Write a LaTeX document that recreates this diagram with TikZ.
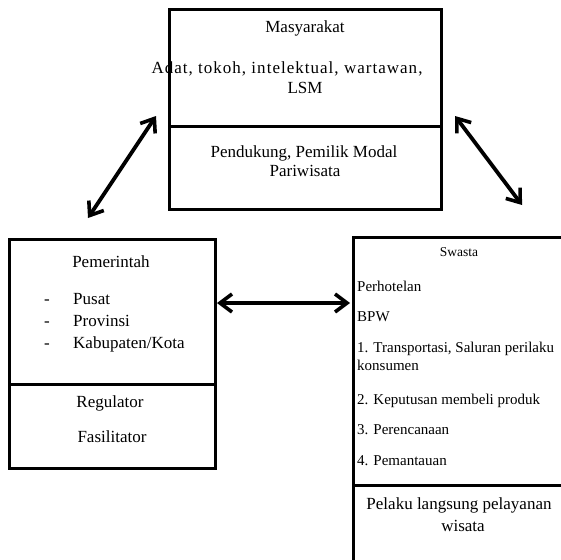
\documentclass[tikz,border=0pt]{standalone}
\usepackage{fontspec}
\setmainfont{Liberation Serif}
\usetikzlibrary{arrows.meta}
\begin{document}
\begin{tikzpicture}[x=1pt,y=-1pt,
  box/.style={draw, line width=2.7pt, inner sep=0pt, anchor=north west},
  barb/.tip={Straight Barb[length=12pt,width=18pt,line width=3.6pt]},
  dbl/.style={line width=3.8pt, barb-barb},
  big/.style={font=\fontsize{17}{20}\selectfont, inner sep=0pt},
  small/.style={font=\fontsize{15}{18}\selectfont, inner sep=0pt, anchor=base west},
  tiny/.style={font=\fontsize{13.5}{16}\selectfont, inner sep=0pt}]
\useasboundingbox (0,0) rectangle (561,559);
\clip (0,0) rectangle (561,559);
% top box
\node[box, minimum width=272pt, minimum height=117pt] (masU) at (168,8) {};
\node[box, minimum width=272pt, minimum height=83pt] (masL) at (168,125) {};
\node[big, anchor=base] (t1) at (305,33) {Masyarakat};
\node[big, anchor=base] (t2) at (287,74) {\addfontfeature{LetterSpace=6}Adat, tokoh, intelektual, wartawan,};
\node[big, anchor=base] (t3) at (305,94) {LSM};
\node[big, anchor=base] (t4) at (304,157) {Pendukung, Pemilik Modal};
\node[big, anchor=base] (t5) at (305,176) {Pariwisata};
% left box
\node[box, minimum width=206pt, minimum height=145pt] (pemU) at (8,238) {};
\node[box, minimum width=206pt, minimum height=84pt] (pemL) at (8,383) {};
\node[big, anchor=base] (p1) at (111,267) {Pemerintah};
\node[big, anchor=base] (d1) at (47,304) {-};
\node[big, anchor=base] (d2) at (47,326) {-};
\node[big, anchor=base] (d3) at (47,348) {-};
\node[big, anchor=base west] (p2) at (73,304) {Pusat};
\node[big, anchor=base west] (p3) at (73,326) {Provinsi};
\node[big, anchor=base west] (p4) at (73,348) {Kabupaten/Kota};
\node[big, anchor=base] (p5) at (110,407) {Regulator};
\node[big, anchor=base] (p6) at (112,442) {Fasilitator};
% right box
\node[box, minimum width=223pt, minimum height=248pt] (swaU) at (352,236) {};
\node[box, minimum width=223pt, minimum height=91pt] (swaL) at (352,484) {};
\node[tiny, anchor=base] (s0) at (459,256) {Swasta};
\node[small] (s1) at (357,291) {Perhotelan};
\node[small] (s2) at (357,321) {BPW};
\node[small] (s3) at (357,352) {1. Transportasi, Saluran perilaku};
\node[small] (s4) at (357,370) {konsumen};
\node[small] (s5) at (357,404) {2. Keputusan membeli produk};
\node[small] (s6) at (357,434) {3. Perencanaan};
\node[small] (s7) at (357,465) {4. Pemantauan};
\node[big, anchor=base] (s8) at (459,509) {Pelaku langsung pelayanan};
\node[big, anchor=base] (s9) at (463,531) {wisata};
% arrows
\coordinate (a1) at (88,218);
\coordinate (a2) at (156,116);
\coordinate (b1) at (455,116);
\coordinate (b2) at (522,205);
\coordinate (h1) at (217,303);
\coordinate (h2) at (350,303);
\draw[dbl] (a1) -- (a2);
\draw[dbl] (b1) -- (b2);
\draw[dbl] (h1) -- (h2);
\end{tikzpicture}
\end{document}
